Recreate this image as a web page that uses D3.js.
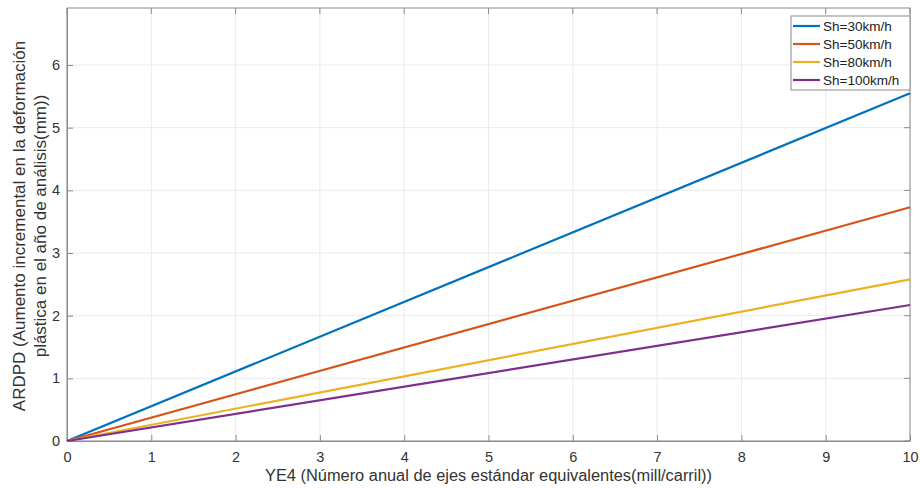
<!DOCTYPE html>
<html><head><meta charset="utf-8">
<script src="https://cdn.jsdelivr.net/npm/d3@7"></script>
<style>body{margin:0;background:#fff}svg{display:block}</style>
</head><body>
<svg id="c" width="922" height="489"></svg>
<script>
const xTicks=[0,1,2,3,4,5,6,7,8,9,10];
const yTicks=[0,1,2,3,4,5,6];
const seriesNames=["Sh=30km/h","Sh=50km/h","Sh=80km/h","Sh=100km/h"];
const seriesColors=["#0072BD","#D95319","#EDB120","#7E2F8E"];
const xValues=[0,10];
const s30=[0,5.55];
const s50=[0,3.73];
const s80=[0,2.58];
const s100=[0,2.17];
const seriesValues=[s30,s50,s80,s100];

const svg=d3.select("#c");
const L=67,R=910,T=8,B=441;
const x=d3.scaleLinear().domain([0,10]).range([L,R]);
const y=d3.scaleLinear().domain([0,6.91]).range([B,T]);
const font="Liberation Sans, Arial, sans-serif";

// grid
svg.append("g").selectAll("line").data(xTicks).join("line")
 .attr("x1",d=>x(d)).attr("x2",d=>x(d)).attr("y1",T).attr("y2",B)
 .attr("stroke","#ebebeb").attr("stroke-width",1);
svg.append("g").selectAll("line").data(yTicks).join("line")
 .attr("y1",d=>y(d)).attr("y2",d=>y(d)).attr("x1",L).attr("x2",R)
 .attr("stroke","#ebebeb").attr("stroke-width",1);

// axes
const xa=svg.append("g").attr("transform",`translate(0,${B})`)
 .call(d3.axisBottom(x).tickValues(xTicks).tickSizeInner(-6).tickSizeOuter(0).tickPadding(11).tickFormat(d3.format("d")));
const ya=svg.append("g").attr("transform",`translate(${L},0)`)
 .call(d3.axisLeft(y).tickValues(yTicks).tickSizeInner(-6).tickSizeOuter(0).tickPadding(7).tickFormat(d3.format("d")));
[xa,ya].forEach(a=>{
 a.select(".domain").attr("stroke","#8c8c8c");
 a.selectAll(".tick line").attr("stroke","#8c8c8c");
 a.selectAll(".tick text").attr("fill","#333").attr("font-family",font).attr("font-size",14.5);
});
// top/right tick marks & box
svg.append("g").selectAll("line").data(xTicks).join("line")
 .attr("x1",d=>x(d)).attr("x2",d=>x(d)).attr("y1",T).attr("y2",T+6).attr("stroke","#8c8c8c");
svg.append("g").selectAll("line").data(yTicks).join("line")
 .attr("y1",d=>y(d)).attr("y2",d=>y(d)).attr("x1",R).attr("x2",R-6).attr("stroke","#8c8c8c");
svg.append("rect").attr("x",L).attr("y",T).attr("width",R-L).attr("height",B-T)
 .attr("fill","none").attr("stroke","#8c8c8c").attr("stroke-width",1);

// lines
const line=d3.line().x((d,i)=>x(xValues[i])).y(d=>y(d));
seriesValues.forEach((s,i)=>{
 svg.append("path").datum(s).attr("d",line).attr("fill","none")
  .attr("stroke",seriesColors[i]).attr("stroke-width",2.2);
});

// legend
const lg=svg.append("g");
lg.append("rect").attr("x",791).attr("y",16).attr("width",119).attr("height",74)
 .attr("fill","#fff").attr("stroke","#8c8c8c");
seriesNames.forEach((n,i)=>{
 const yy=26+i*18;
 lg.append("line").attr("x1",793).attr("x2",820).attr("y1",yy).attr("y2",yy)
  .attr("stroke",seriesColors[i]).attr("stroke-width",2.2);
 lg.append("text").attr("x",823).attr("y",yy+5).text(n)
  .attr("font-family",font).attr("font-size",13.5).attr("fill","#222");
});

// axis labels
svg.append("text").attr("x",(L+R)/2).attr("y",481).attr("text-anchor","middle")
 .attr("font-family",font).attr("font-size",16).attr("fill","#333")
 .attr("textLength",447).attr("lengthAdjust","spacingAndGlyphs")
 .text("YE4 (Número anual de ejes estándar equivalentes(mill/carril))");
const yl=svg.append("g").attr("transform","translate(0,226) rotate(-90)");
yl.append("text").attr("x",0).attr("y",25).attr("text-anchor","middle")
 .attr("font-family",font).attr("font-size",17).attr("fill","#333")
 .text("ARDPD (Aumento incremental en la deformación");
yl.append("text").attr("x",0).attr("y",46).attr("text-anchor","middle")
 .attr("font-family",font).attr("font-size",17).attr("fill","#333")
 .text("plástica en el año de análisis(mm))");
</script>
</body></html>
